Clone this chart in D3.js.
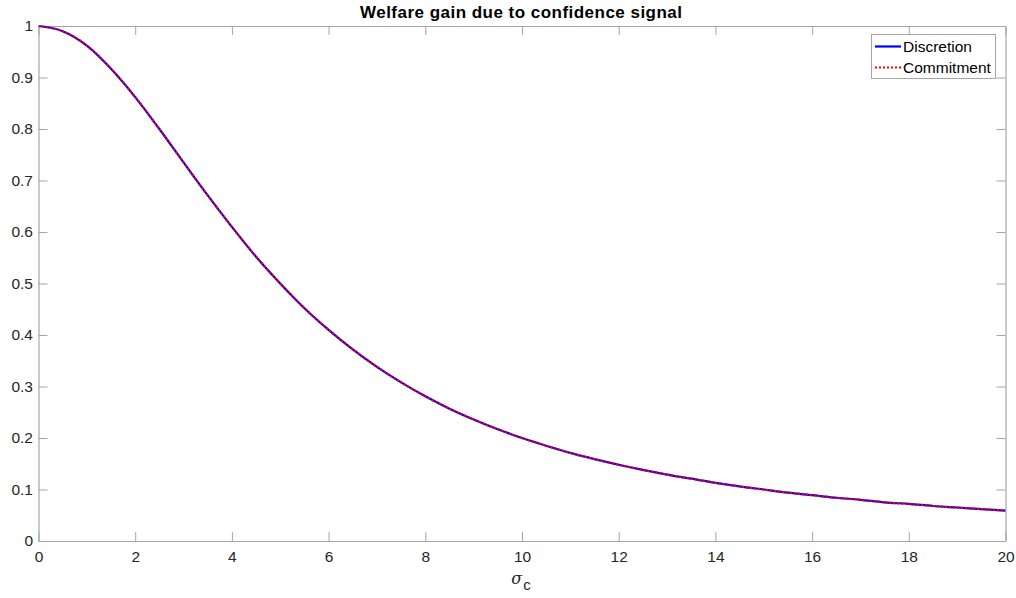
<!DOCTYPE html>
<html><head><meta charset="utf-8">
<script src="https://cdn.jsdelivr.net/npm/d3@7"></script>
<style>
html,body{margin:0;padding:0;background:#fff;}
svg{display:block;font-family:"Liberation Sans",Arial,Helvetica,sans-serif;}
</style></head>
<body>
<svg id="chart" width="1016" height="598"></svg>
<script>
// Data
const sigma = [0,0.5,1,1.5,2,2.5,3,3.5,4,4.5,5,5.5,6,6.5,7,7.5,8,8.5,9,9.5,10,10.5,11,11.5,12,12.5,13,13.5,14,14.5,15,15.5,16,16.5,17,17.5,18,18.5,19,19.5,20];
const discretion = [1.000,0.990,0.962,0.917,0.862,0.800,0.735,0.671,0.610,0.552,0.500,0.452,0.410,0.372,0.338,0.308,0.281,0.257,0.236,0.217,0.200,0.185,0.171,0.159,0.148,0.138,0.129,0.121,0.113,0.106,0.100,0.094,0.089,0.084,0.080,0.075,0.072,0.068,0.065,0.062,0.059];
const commitment = [1.000,0.990,0.962,0.917,0.862,0.800,0.735,0.671,0.610,0.552,0.500,0.452,0.410,0.372,0.338,0.308,0.281,0.257,0.236,0.217,0.200,0.185,0.171,0.159,0.148,0.138,0.129,0.121,0.113,0.106,0.100,0.094,0.089,0.084,0.080,0.075,0.072,0.068,0.065,0.062,0.059];
const xTicks = [0,2,4,6,8,10,12,14,16,18,20];
const yTicks = [0,0.1,0.2,0.3,0.4,0.5,0.6,0.7,0.8,0.9,1];
const seriesNames = ["Discretion","Commitment"];
const titleText = "Welfare gain due to confidence signal";

const svg = d3.select("#chart");
const L = 38.5, R = 1005.5, T = 26, B = 541;
const x = d3.scaleLinear().domain([0,20]).range([L,R]);
const y = d3.scaleLinear().domain([0,1]).range([B,T]);
const axisColor = "#a6a6a6", textColor = "#262626";
const tickLen = 9;

svg.append("defs").append("clipPath").attr("id","clip")
  .append("rect").attr("x",L).attr("y",T-2).attr("width",R-L).attr("height",B-T+4);

const fs = "15.5px";
const gx = svg.append("g").attr("transform",`translate(0,${B})`)
  .call(d3.axisBottom(x).tickValues(xTicks).tickSizeInner(-tickLen).tickSizeOuter(0).tickPadding(10).tickFormat(d3.format("d")));
const gy = svg.append("g").attr("transform",`translate(${L},0)`)
  .call(d3.axisLeft(y).tickValues(yTicks).tickSizeInner(-tickLen).tickSizeOuter(0).tickPadding(5.5).tickFormat(d=>d3.format("~g")(d)));
const gxt = svg.append("g").attr("transform",`translate(0,${T})`)
  .call(d3.axisTop(x).tickValues(xTicks).tickSizeInner(-tickLen).tickSizeOuter(0).tickFormat(""));
const gyr = svg.append("g").attr("transform",`translate(${R},0)`)
  .call(d3.axisRight(y).tickValues(yTicks).tickSizeInner(-tickLen).tickSizeOuter(0).tickFormat(""));
[gx,gy,gxt,gyr].forEach(g=>{
  g.select(".domain").attr("stroke",axisColor).attr("stroke-width",1.2);
  g.selectAll(".tick line").attr("stroke",axisColor);
  g.selectAll(".tick text").attr("fill",textColor).style("font-size",fs).style("font-family",'"Liberation Sans",Arial,sans-serif');
});

const line = d3.line().x((d,i)=>x(sigma[i])).y(d=>y(d)).curve(d3.curveMonotoneX);
const plot = svg.append("g").attr("clip-path","url(#clip)");
plot.append("path").datum(discretion).attr("d",line).attr("fill","none").attr("stroke","#0000ff").attr("stroke-width",2.2);
plot.append("path").datum(commitment).attr("d",line).attr("fill","none").attr("stroke","#ff0000").attr("stroke-width",2.2).attr("stroke-dasharray","2,2");

svg.append("text").attr("x",521).attr("y",18).attr("text-anchor","middle")
  .attr("fill","#000").style("font-weight","bold").style("font-size","17px")
  .attr("textLength",322).attr("lengthAdjust","spacing").text(titleText);

const xl = svg.append("text").attr("x",521).attr("y",584).attr("text-anchor","middle").attr("fill",textColor).style("font-size","16px");
xl.append("tspan").style("font-style","italic").style("font-family",'"DejaVu Serif","Liberation Serif",serif').text("σ");
xl.append("tspan").attr("dy",6).attr("dx",1).style("font-size","15px").text("c");

const lg = svg.append("g");
lg.append("rect").attr("x",871.5).attr("y",34.5).attr("width",124).attr("height",44).attr("fill","#fff").attr("stroke","#a6a6a6");
const colors = ["#0000ff","#ff0000"], dashes = [null,"2,2"];
seriesNames.forEach((n,i)=>{
  const yy = 46.5 + i*21;
  lg.append("line").attr("x1",875).attr("x2",901).attr("y1",yy).attr("y2",yy).attr("stroke",colors[i]).attr("stroke-width",2.2).attr("stroke-dasharray",dashes[i]);
  lg.append("text").attr("x",903).attr("y",yy+5).attr("fill","#000").style("font-size","15.5px").text(n);
});
</script>
</body></html>
